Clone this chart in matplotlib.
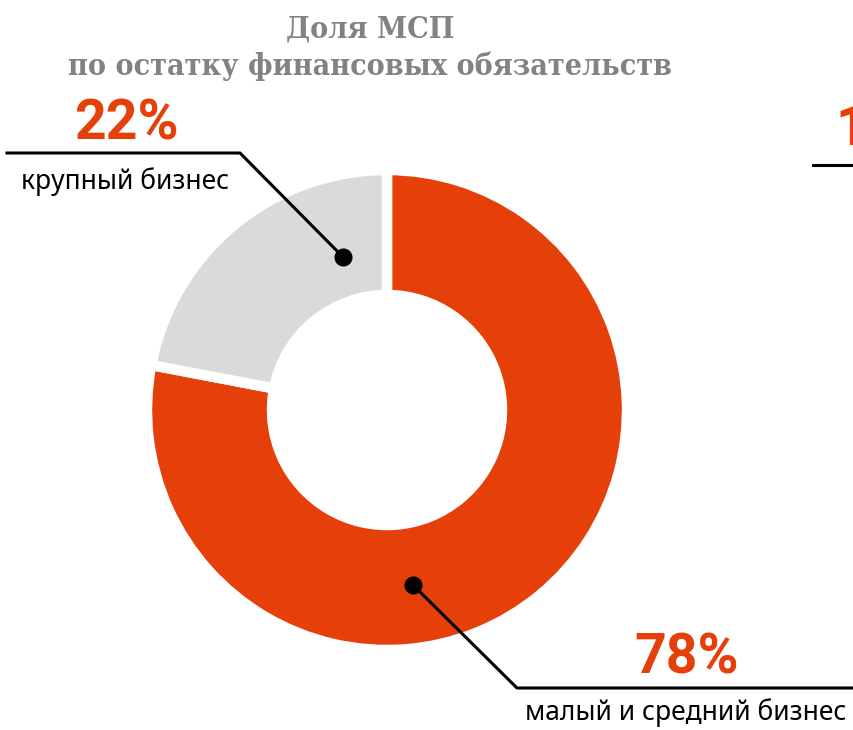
import matplotlib.pyplot as plt

labels = ["малый и средний бизнес", "крупный бизнес"]
shares = [78, 22]
pct_labels = ["78%", "22%"]
colors = ["#E5400A", "#D9DADA"]

W, H = 854, 730
fig = plt.figure(figsize=(W / 100, H / 100), dpi=100)
ax = fig.add_axes([0, 0, 1, 1])

cx, cy = 387, H - 410
ax.pie(shares, colors=colors, startangle=90, counterclock=False,
       center=(cx, cy), radius=240, frame=True,
       wedgeprops=dict(width=125, edgecolor="white", linewidth=7.5))
ax.set_xlim(0, W)
ax.set_ylim(0, H)
ax.set_aspect("equal")
ax.axis("off")

# title
title_font = dict(fontsize=21.8, fontweight="bold", family="DejaVu Serif",
                  fontstretch="condensed", color="#828282")
ax.text(370, H - 29, "Доля МСП", ha="center", va="center", **title_font)
ax.text(370, H - 66, "по остатку финансовых обязательств", ha="center", va="center",
        **title_font)

# callout: large business
ax.plot([343, 240, 7], [H - 257, H - 153, H - 153], color="black", lw=2.2)
ax.plot(343, H - 257, "o", color="black", ms=12)
ax.text(126, H - 124, pct_labels[1], ha="center", va="center",
        fontsize=40, fontweight="bold", family="Roboto", color=colors[0])
ax.text(125, H - 182, labels[1], ha="center", va="center",
        fontsize=19, family="Noto Sans", color="black")

# callout: small and medium business
ax.plot([413, 517, W], [H - 585, H - 688, H - 688], color="black", lw=2.2)
ax.plot(413, H - 585, "o", color="black", ms=12)
ax.text(687, H - 659, pct_labels[0], ha="center", va="center",
        fontsize=40, fontweight="bold", family="Roboto", color=colors[0])
ax.text(686, H - 713, labels[0], ha="center", va="center",
        fontsize=19, family="Noto Sans", color="black")

# cut-off neighbour chart on the right
ax.text(835, H - 130, "1", ha="left", va="center",
        fontsize=40, fontweight="bold", family="Roboto", color=colors[0])
ax.plot([813, W], [H - 165, H - 165], color="black", lw=2.2)

fig.savefig("out.png", dpi=100)
